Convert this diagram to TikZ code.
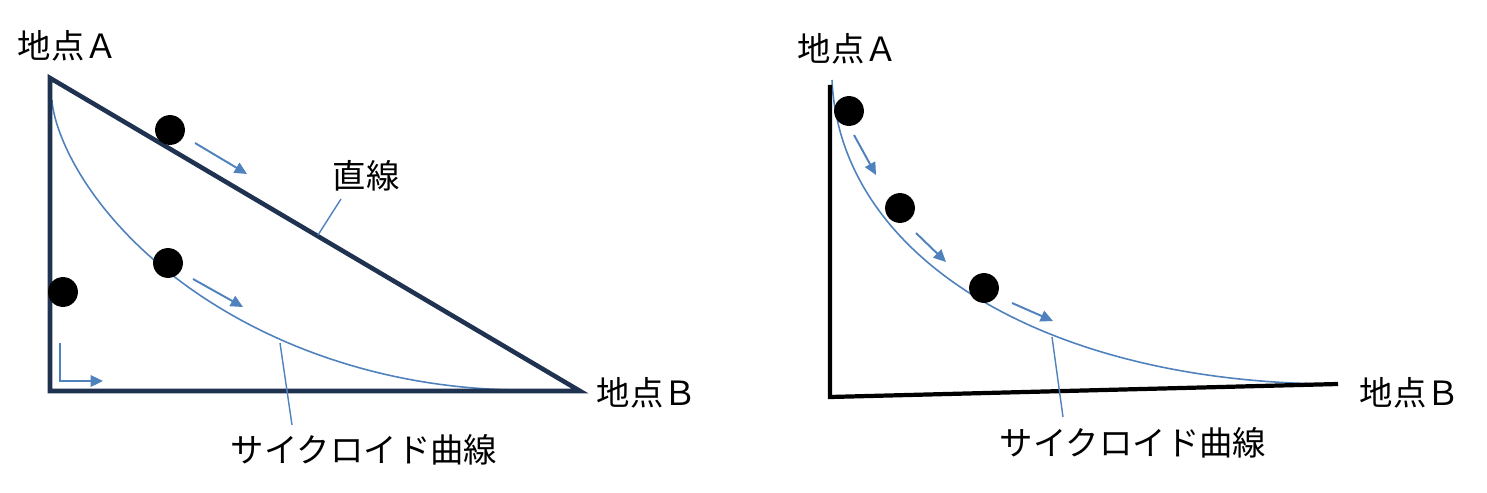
\documentclass[tikz,border=0pt]{standalone}
\usepackage{fontspec}
\setmainfont{Noto Sans CJK JP}
\usetikzlibrary{arrows.meta}

\definecolor{framenavy}{RGB}{31,51,80}
\definecolor{curveblue}{RGB}{79,129,189}

\begin{document}
\begin{tikzpicture}[x=0.02cm, y=-0.02cm,
    frameline/.style={draw=framenavy, line width=2.6pt, line join=miter},
    axisline/.style={draw=black, line width=2.4pt},
    cycloid/.style={draw=curveblue, line width=0.9pt},
    ball/.style={circle, fill=black, inner sep=0pt, minimum size=17pt},
    movearrow/.style={draw=curveblue, line width=1.1pt, -{Triangle[length=7pt,width=6.5pt]}},
    leader/.style={draw=curveblue, line width=0.8pt},
    txt/.style={font=\fontsize{19}{22}\selectfont, inner sep=0pt}]
\useasboundingbox (0,0) rectangle (1487,493);

% left: straight line and cycloid
\coordinate (A1) at (50,78);
\coordinate (O1) at (50,391);
\coordinate (B1) at (580,391);
\draw[cycloid] plot[domain=0:pi, samples=80, variable=\t] ({52+150*(\t - sin(\t r))}, {100+145*(1-cos(\t r))});
\draw[frameline] (A1) -- (O1) -- (B1) -- cycle;

\node[txt] (pointA1) at (68,46) {地点Ａ};
\node[txt] (pointB1) at (647,393) {地点Ｂ};
\node[txt] (straightlbl) at (366,176) {直線};
\node[txt] (cycloidlbl1) at (364,450) {サイクロイド曲線};

\node[ball] (ball1) at (170,130) {};
\node[ball] (ball2) at (168,263) {};
\node[ball] (ball3) at (63,292) {};

\coordinate (s1) at (195,143);
\coordinate (e1) at (247,174);
\draw[movearrow] (s1) -- (e1);
\coordinate (s2) at (193,279);
\coordinate (e2) at (243,307);
\draw[movearrow] (s2) -- (e2);
\coordinate (s3) at (60,343);
\coordinate (e3) at (103,381);
\draw[movearrow] (s3) |- (e3);

\coordinate (straightfoot) at (318,235);
\coordinate (straighttop) at (341,199);
\draw[leader] (straighttop) -- (straightfoot);
\coordinate (cycloidfoot1) at (280,343);
\coordinate (cycloidtop1) at (292,425);
\draw[leader] (cycloidfoot1) -- (cycloidtop1);

% right: cycloid only
\coordinate (A2) at (830,85);
\coordinate (O2) at (830,397);
\coordinate (B2) at (1338,384);
\draw[cycloid] (832,80) .. controls (840,260) and (1050,384) .. (1337,384);
\draw[axisline] (A2) -- (O2) -- (B2);

\node[txt] (pointA2) at (848,49) {地点Ａ};
\node[txt] (pointB2) at (1410,393) {地点Ｂ};
\node[txt] (cycloidlbl2) at (1133,443) {サイクロイド曲線};

\node[ball] (ball4) at (849,111) {};
\node[ball] (ball5) at (900,208) {};
\node[ball] (ball6) at (984,288) {};

\coordinate (s4) at (854,135);
\coordinate (e4) at (876,175);
\draw[movearrow] (s4) -- (e4);
\coordinate (s5) at (916,233);
\coordinate (e5) at (946,262);
\draw[movearrow] (s5) -- (e5);
\coordinate (s6) at (1012,303);
\coordinate (e6) at (1053,321);
\draw[movearrow] (s6) -- (e6);

\coordinate (cycloidfoot2) at (1052,337);
\coordinate (cycloidtop2) at (1063,417);
\draw[leader] (cycloidfoot2) -- (cycloidtop2);

\end{tikzpicture}
\end{document}
